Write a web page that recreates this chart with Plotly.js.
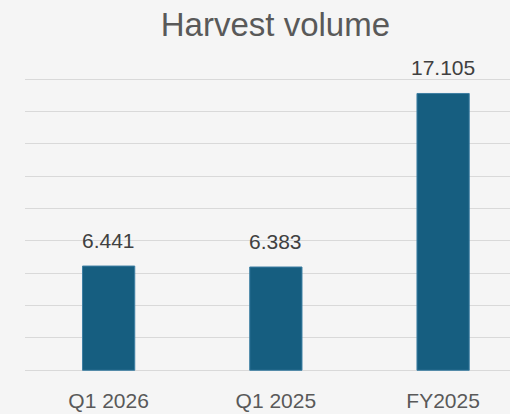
<!DOCTYPE html>
<html>
<head>
<meta charset="utf-8">
<script src="https://cdn.plot.ly/plotly-3.0.1.min.js"></script>
<style>html,body{margin:0;padding:0;background:#F5F5F5;}#chart{width:510px;height:414px;}</style>
</head>
<body>
<div id="chart"></div>
<script>
var categories = ["Q1 2026", "Q1 2025", "FY2025"];
var harvestVolume = [6.441, 6.383, 17.105];
var valueLabels = ["6.441", "6.383", "17.105"];
var chartTitle = "Harvest volume";

var font = "'Liberation Sans', Arial, sans-serif";

var trace = {
  type: "bar",
  x: categories,
  y: harvestVolume,
  width: 0.3125,
  marker: {color: "#165E80", line: {color: "#3E7FA3", width: 1}},
  hoverinfo: "none"
};

var annotations = categories.map(function (c, i) {
  return {
    x: c, y: harvestVolume[i], xref: "x", yref: "y",
    text: valueLabels[i], showarrow: false,
    yanchor: "bottom", yshift: 12,
    font: {family: font, size: 21, color: "#404040"}
  };
});

var layout = {
  width: 510, height: 414,
  paper_bgcolor: "#F5F5F5", plot_bgcolor: "#F5F5F5",
  margin: {l: 25, r: 0, t: 75, b: 40, pad: 0},
  showlegend: false,
  title: {text: chartTitle, x: 0.54, xanchor: "center", y: 0.912, yanchor: "bottom",
          font: {family: font, size: 33, color: "#595959"}},
  xaxis: {
    type: "category", range: [-0.5, 2.4], fixedrange: true,
    showgrid: false, zeroline: false, showline: false,
    ticks: "outside", ticklen: 8, tickcolor: "rgba(0,0,0,0)",
    tickfont: {family: font, size: 21, color: "#595959"}
  },
  yaxis: {
    range: [-0.229, 18.247], dtick: 2, tick0: 0, fixedrange: true,
    showgrid: true, gridcolor: "#D9D9D9", gridwidth: 1,
    zeroline: false, showline: false, showticklabels: false, ticks: ""
  },
  annotations: annotations
};

Plotly.newPlot("chart", [trace], layout, {displayModeBar: false, staticPlot: true});
</script>
</body>
</html>
